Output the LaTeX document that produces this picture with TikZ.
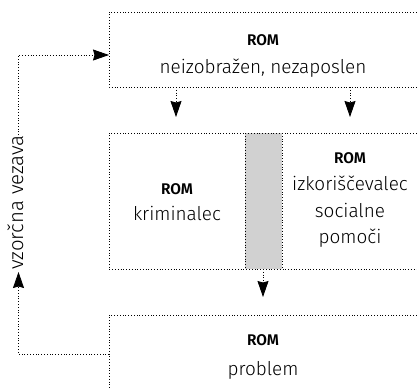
\documentclass[tikz,border=0pt]{standalone}
\usepackage{fontspec}
\setmainfont{Fira Sans}[UprightFont={* Light},BoldFont={* SemiBold}]
\usetikzlibrary{arrows.meta}
\begin{document}
\begin{tikzpicture}[x=1bp,y=-1bp,
  dl/.style={draw=black,line width=0.8bp,dotted},
  arr/.style={dl,-{Stealth[length=16bp,width=11bp,inset=1.5bp]}},
  ttl/.style={font=\fontsize{15.5}{17}\selectfont\bfseries,anchor=base,inner sep=0pt},
  txt/.style={font=\fontsize{19}{26.5}\selectfont,align=center,anchor=base,inner sep=0pt}]
\useasboundingbox (0,0) rectangle (417,388);
% boxes
\fill[black!18] (245,133) rectangle (282,269);
\draw[dl] (425,12) -- (109,12) -- (109,87) -- (425,87);
\draw[dl] (425,133) -- (109,133) -- (109,269) -- (425,269);
\draw[dl] (245,133) -- (245,269);
\draw[dl] (282,133) -- (282,269);
\draw[dl] (425,315) -- (109,315) -- (109,395);
% texts
\node[ttl] (r1) at (263,45) {ROM};
\node[txt] (t1) at (263,73) {neizobražen, nezaposlen};
\node[ttl] (r2) at (177,194) {ROM};
\node[txt] (t2) at (177,220) {kriminalec};
\node[ttl] (r3) at (350,163) {ROM};
\node[txt,anchor=north] (t3) at (350,176) {izkoriščevalec\\socialne\\pomoči};
\node[ttl] (r4) at (263,345) {ROM};
\node[txt] (t4) at (263,375) {problem};
\node[txt,font=\fontsize{20.5}{24}\selectfont,rotate=90,anchor=base west] (lab) at (23,270) {vzorčna vezava};
% coordinates
\coordinate (a1s) at (176,87); \coordinate (a1e) at (176,117);
\coordinate (a2s) at (350,87); \coordinate (a2e) at (350,117);
\coordinate (a3s) at (263,269); \coordinate (a3e) at (263,297);
\coordinate (ls) at (109,354); \coordinate (lc) at (18.5,354);
\coordinate (lt) at (18.5,272);
\coordinate (ut) at (18.5,55); \coordinate (ue) at (109,55);
\draw[arr] (a1s) -- (a1e);
\draw[arr] (a2s) -- (a2e);
\draw[arr] (a3s) -- (a3e);
\draw[arr] (ls) -- (lc) -- (lt);
\draw[arr] (18.5,0 |- lab.east) -- (ut) -- (ue);
\end{tikzpicture}
\end{document}
